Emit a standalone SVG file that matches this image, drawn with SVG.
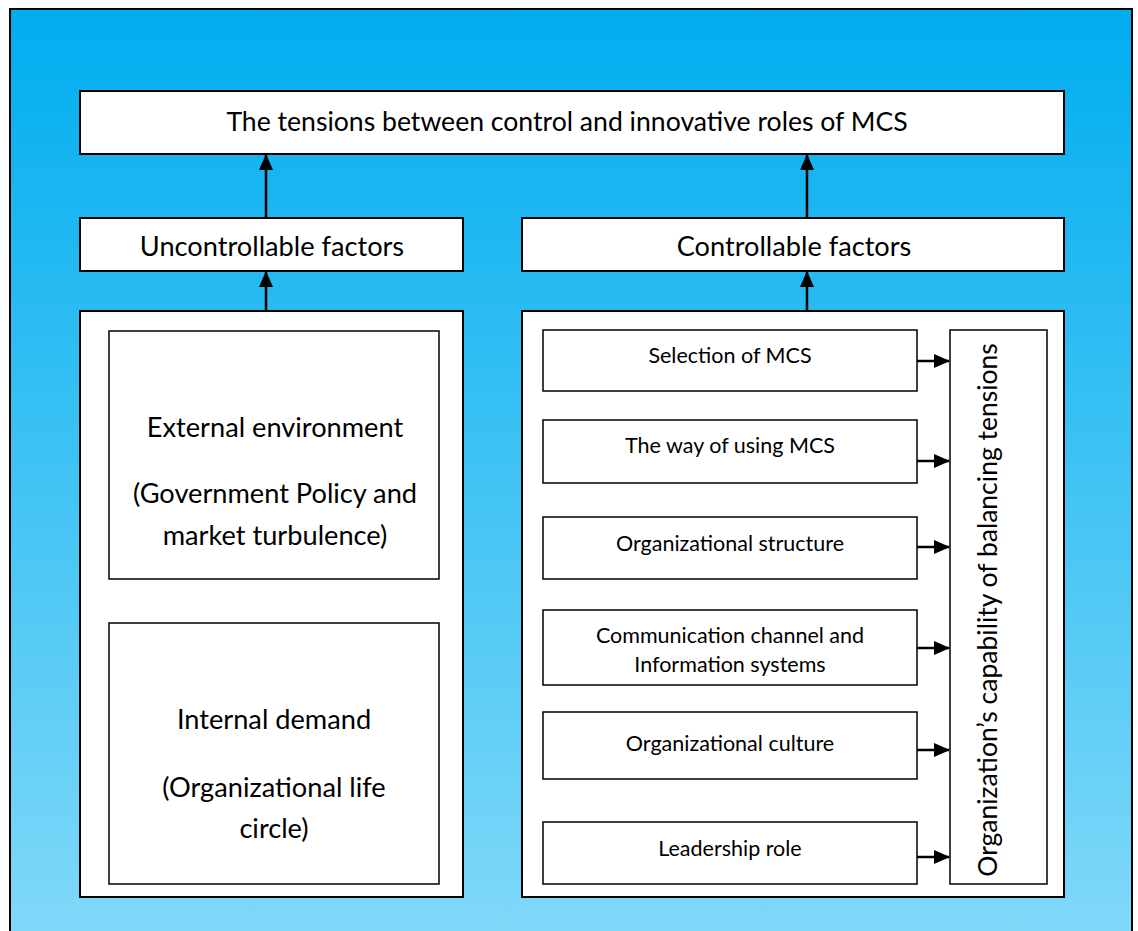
<svg xmlns="http://www.w3.org/2000/svg" width="1138" height="931" viewBox="0 0 1138 931">
<defs>
<linearGradient id="bg" x1="0" y1="0" x2="0" y2="1">
<stop offset="0" stop-color="#00ADEF"/>
<stop offset="1" stop-color="#82D9F9"/>
</linearGradient>
<marker id="ahs" markerWidth="16" markerHeight="14" refX="15" refY="7" orient="auto" markerUnits="userSpaceOnUse" viewBox="0 0 16 14">
<path d="M0,0 L16,7 L0,14 z" fill="#000"/>
</marker>
</defs>
<style>
.box{fill:#fff;stroke:#000;stroke-width:2}
.inner{fill:#fff;stroke:#000;stroke-width:1.5}
.t{font-family:Lato,"Open Sans","Liberation Sans",sans-serif;fill:#000;text-anchor:middle}
.ttl{font-size:26.6px}
.big{font-size:27.2px}
.mid{font-size:26.5px}
.sm{font-size:21.5px}
.conn{stroke:#000;stroke-width:2.5;fill:none}
</style>
<rect id="background" x="10" y="9" width="1122" height="940" fill="url(#bg)" stroke="#000" stroke-width="2"/>
<g id="title">
<rect class="box" x="80" y="91" width="984" height="63"/>
<text class="t ttl" x="567" y="131">The tensions between control and innovative roles of MCS</text>
</g>
<g id="uncontrollable">
<rect class="box" x="80" y="218" width="383" height="53"/>
<text class="t big" x="272" y="256">Uncontrollable factors</text>
</g>
<g id="controllable">
<rect class="box" x="522" y="218" width="542" height="53"/>
<text class="t big" x="794" y="256">Controllable factors</text>
</g>
<g id="left-container">
<rect class="box" x="80" y="311" width="383" height="586"/>
</g>
<g id="external">
<rect class="inner" x="109" y="331" width="330" height="248"/>
<text class="t big" x="275" y="437">External environment</text>
<text class="t big" x="275" y="503">(Government Policy and</text>
<text class="t big" x="275" y="545">market turbulence)</text>
</g>
<g id="internal">
<rect class="inner" x="109" y="623" width="330" height="261"/>
<text class="t big" x="274" y="729">Internal demand</text>
<text class="t big" x="274" y="797">(Organizational life</text>
<text class="t big" x="274" y="838">circle)</text>
</g>
<g id="right-container">
<rect class="box" x="522" y="311" width="542" height="586"/>
</g>
<g id="selection">
<rect class="inner" x="543" y="330" width="374" height="61"/>
<text class="t sm" x="730" y="363">Selection of MCS</text>
</g>
<g id="way">
<rect class="inner" x="543" y="420" width="374" height="63"/>
<text class="t sm" x="730" y="453">The way of using MCS</text>
</g>
<g id="structure">
<rect class="inner" x="543" y="517" width="374" height="62"/>
<text class="t sm" x="730" y="551">Organizational structure</text>
</g>
<g id="communication">
<rect class="inner" x="543" y="610" width="374" height="75"/>
<text class="t sm" x="730" y="643">Communication channel and</text>
<text class="t sm" x="730" y="672">Information systems</text>
</g>
<g id="culture">
<rect class="inner" x="543" y="712" width="374" height="67"/>
<text class="t sm" x="730" y="751">Organizational culture</text>
</g>
<g id="leadership">
<rect class="inner" x="543" y="822" width="374" height="62"/>
<text class="t sm" x="730" y="856">Leadership role</text>
</g>
<g id="capability">
<rect class="inner" x="950" y="330" width="97" height="554"/>
<text class="t mid" transform="translate(997,610) rotate(-90)">Organization’s capability of balancing tensions</text>
</g>
<g id="connectors">
<line class="conn" x1="266" y1="218" x2="266" y2="155" marker-end="url(#ahs)"/>
<line class="conn" x1="807" y1="218" x2="807" y2="155" marker-end="url(#ahs)"/>
<line class="conn" x1="266" y1="311" x2="266" y2="272" marker-end="url(#ahs)"/>
<line class="conn" x1="807" y1="311" x2="807" y2="272" marker-end="url(#ahs)"/>
<line class="conn" x1="917" y1="361" x2="949" y2="361" marker-end="url(#ahs)"/>
<line class="conn" x1="917" y1="461" x2="949" y2="461" marker-end="url(#ahs)"/>
<line class="conn" x1="917" y1="547" x2="949" y2="547" marker-end="url(#ahs)"/>
<line class="conn" x1="917" y1="648" x2="949" y2="648" marker-end="url(#ahs)"/>
<line class="conn" x1="917" y1="750" x2="949" y2="750" marker-end="url(#ahs)"/>
<line class="conn" x1="917" y1="857" x2="949" y2="857" marker-end="url(#ahs)"/>
</g>
</svg>
